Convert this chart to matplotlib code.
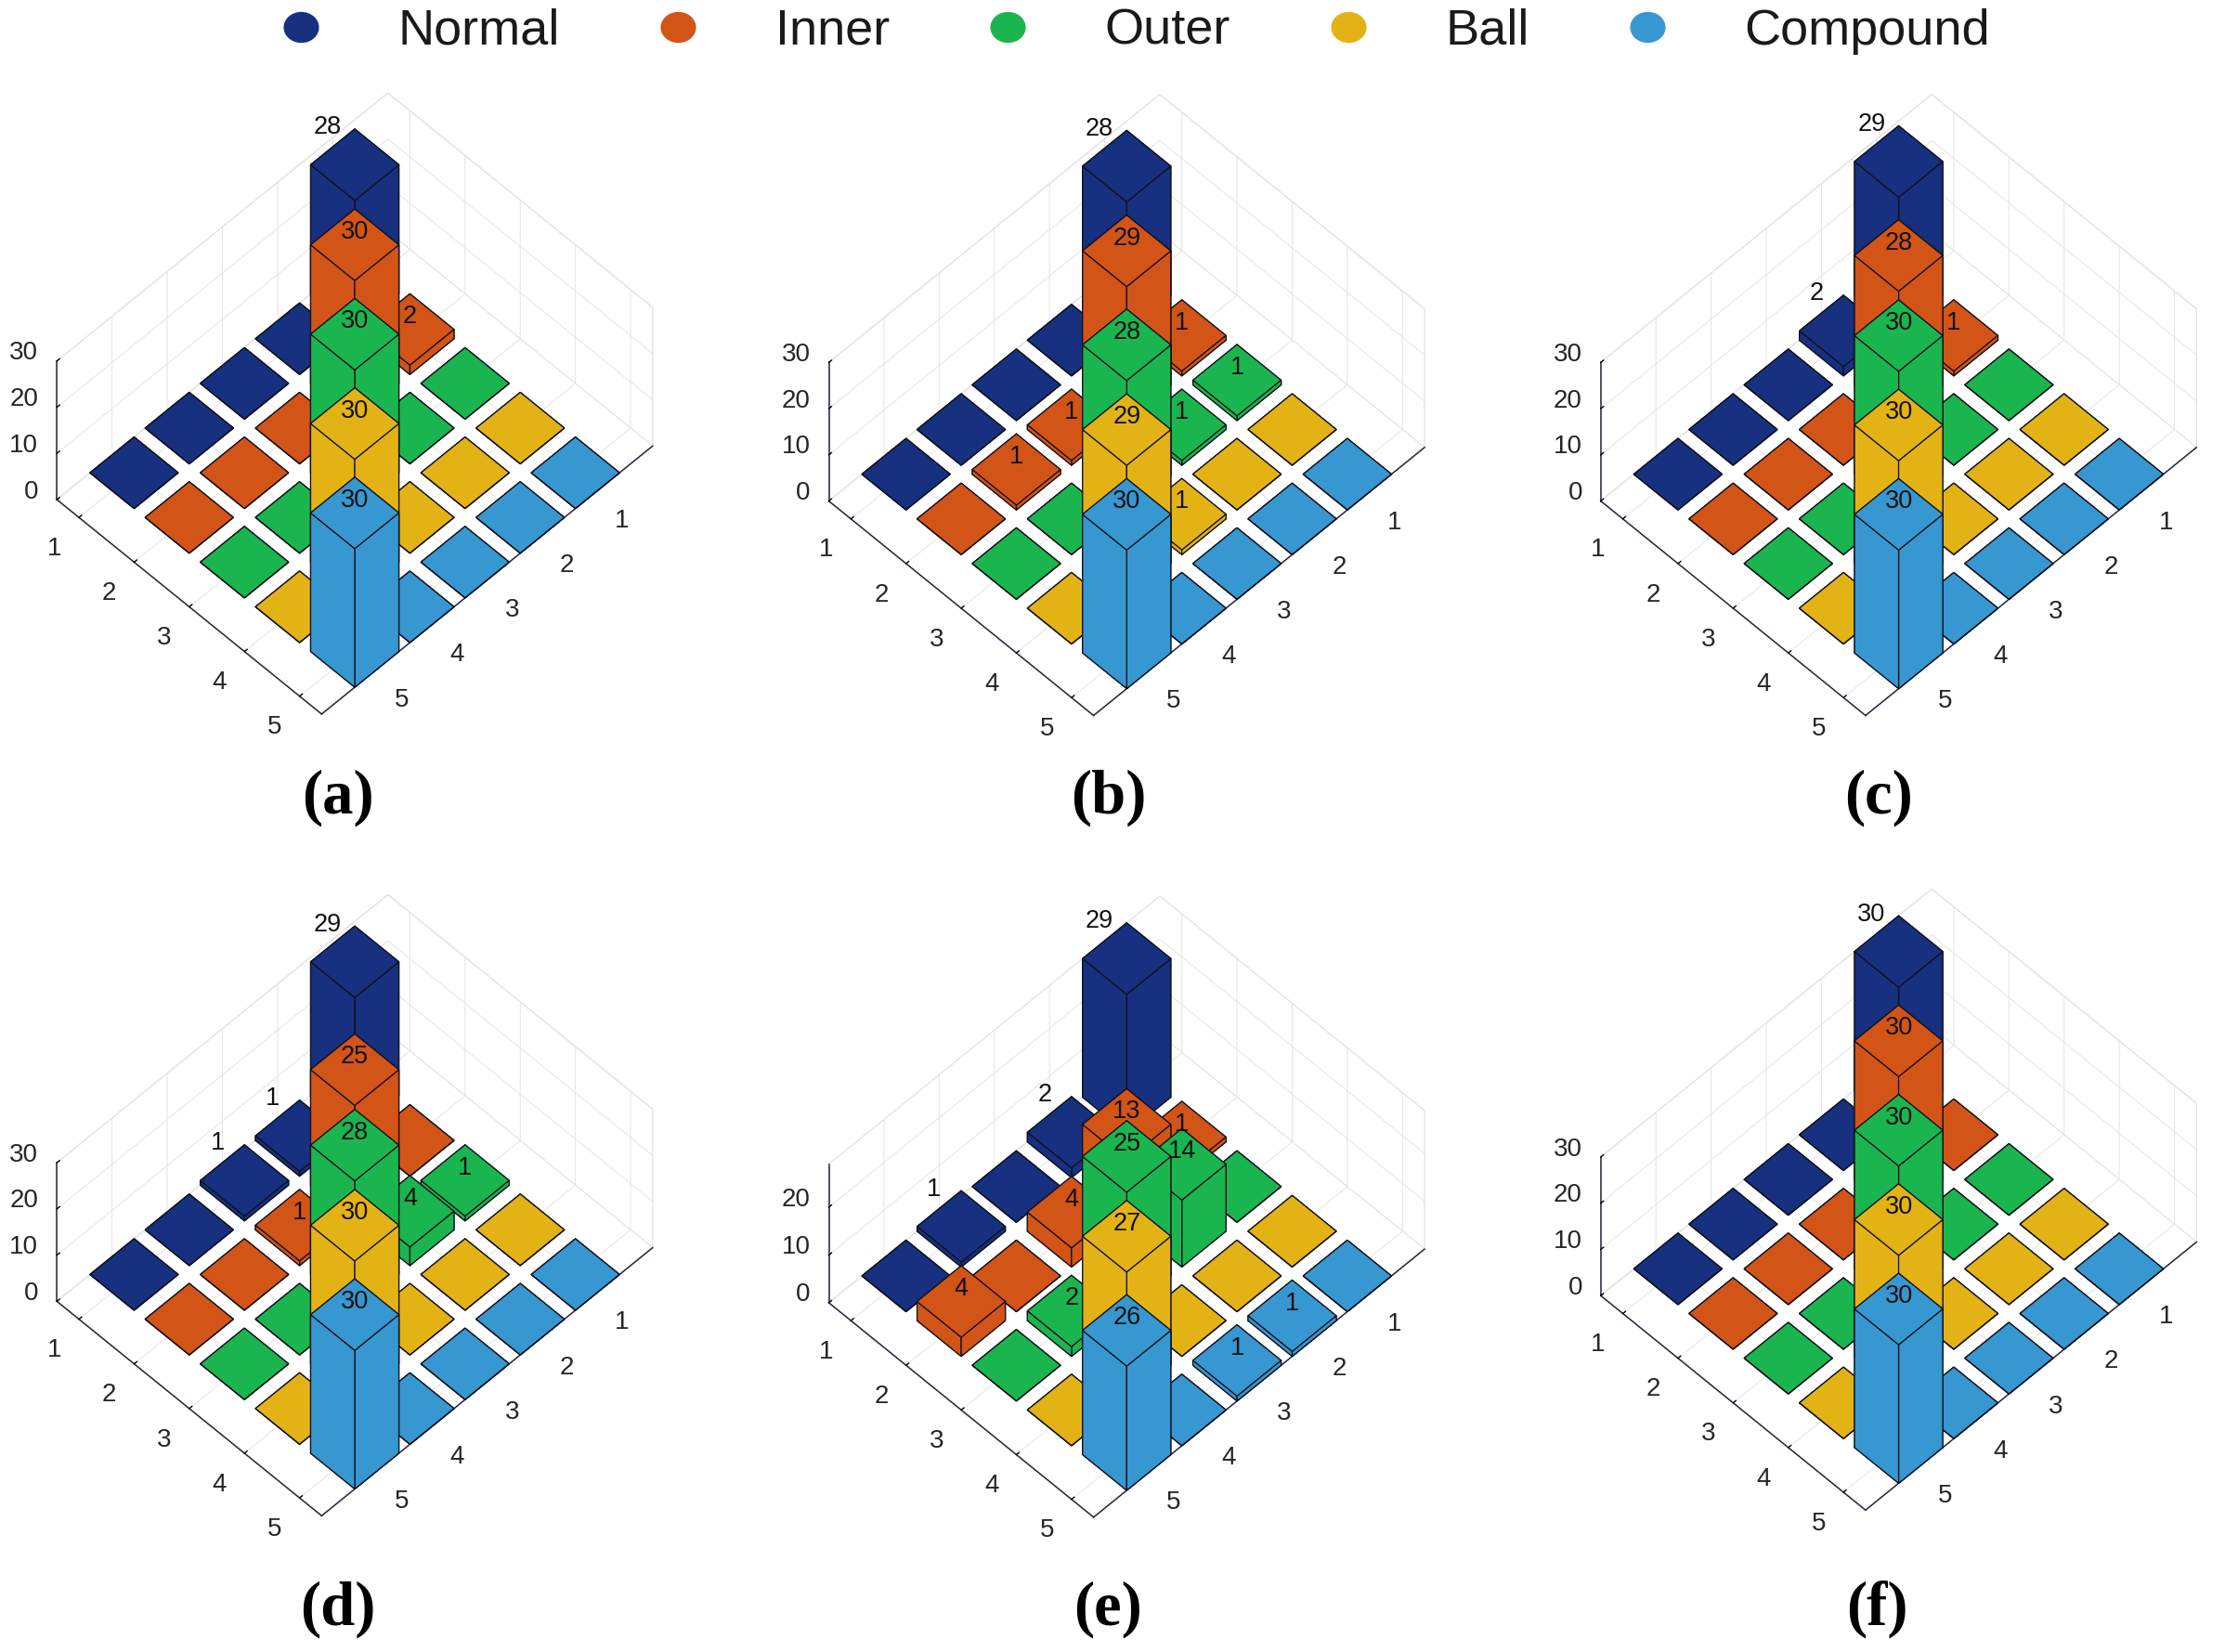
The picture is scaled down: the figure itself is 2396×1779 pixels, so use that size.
import matplotlib
matplotlib.use("Agg")
import matplotlib.pyplot as plt
from matplotlib.lines import Line2D
from matplotlib.markers import MarkerStyle
from matplotlib.transforms import Affine2D
from mpl_toolkits.mplot3d import proj3d

plt.rcParams["font.family"] = ["Liberation Sans", "DejaVu Sans"]

classes = ["Normal", "Inner", "Outer", "Ball", "Compound"]
colors = ["#17307f", "#d35417", "#1bb54f", "#e3b316", "#3797d0"]
panel_names = ["(a)", "(b)", "(c)", "(d)", "(e)", "(f)"]

# rows = class (left axis), columns = right axis
counts_a = [[28, 0, 0, 0, 0], [2, 30, 0, 0, 0], [0, 0, 30, 0, 0], [0, 0, 0, 30, 0], [0, 0, 0, 0, 30]]
counts_b = [[28, 0, 0, 0, 0], [1, 29, 1, 1, 0], [1, 1, 28, 0, 0], [0, 0, 1, 29, 0], [0, 0, 0, 0, 30]]
counts_c = [[29, 2, 0, 0, 0], [1, 28, 0, 0, 0], [0, 0, 30, 0, 0], [0, 0, 0, 30, 0], [0, 0, 0, 0, 30]]
counts_d = [[29, 1, 1, 0, 0], [0, 25, 1, 0, 0], [1, 4, 28, 0, 0], [0, 0, 0, 30, 0], [0, 0, 0, 0, 30]]
counts_e = [[29, 2, 0, 1, 0], [1, 13, 4, 0, 4], [0, 14, 25, 2, 0], [0, 0, 0, 27, 0], [0, 1, 1, 0, 26]]
counts_f = [[30, 0, 0, 0, 0], [0, 30, 0, 0, 0], [0, 0, 30, 0, 0], [0, 0, 0, 30, 0], [0, 0, 0, 0, 30]]
all_counts = [counts_a, counts_b, counts_c, counts_d, counts_e, counts_f]

ticks = [1, 2, 3, 4, 5]
z_ticks = [0, 10, 20, 30]

W, H = 2396, 1779
SCALE = 2396 / 1568  # I read positions from a 1568 wide view

# where the front bottom corner of the (5,5) bar goes, in view coordinates
anchors = [(250, 484), (794, 485), (1338, 485), (250, 1049), (794, 1050), (1338, 1045)]
label_pos = [(238, 562), (781, 562), (1324, 562), (238, 1134), (781, 1134), (1323, 1134)]

ASPECT = (6, 4.8, 3.03)
UNIT_PX = 59.4  # horizontal pixels per bar index
Y_FIX = 39  # found by comparing one render with the anchor
BOX = 760 / W
TICK_FONT = 20
TICK_COLOR = "#262626"

fig = plt.figure(figsize=(W / 100, H / 100), dpi=100, facecolor="white")


def to_px(ax, x, y, z):
    X, Y, _ = proj3d.proj_transform(x, y, z, ax.get_proj())
    return ax.transData.transform((X, Y))


def put_text(ax, x, y, z, s, **kw):
    # plain 2D text at the projected point of a 3D position
    X, Y, _ = proj3d.proj_transform(x, y, z, ax.get_proj())
    ax.text2D(X, Y, s, transform=ax.transData, va="center", **kw)


for counts, anchor, name, lab in zip(all_counts, anchors, panel_names, label_pos):
    ax = fig.add_axes([0.1, 0.1, BOX, BOX * W / H], projection="3d", computed_zorder=False)
    ax.patch.set_alpha(0)
    ax.set_proj_type("ortho")
    ax.view_init(elev=54.1, azim=45)
    top = max(max(r) for r in counts)
    ax.set_xlim(0, 6, view_margin=0)
    ax.set_ylim(0.6, 5.4, view_margin=0)
    ax.set_zlim(0, top, view_margin=0)
    ax.set_box_aspect(ASPECT)

    # size the box so one index is UNIT_PX wide, then move it onto the anchor
    p0 = to_px(ax, 1, 1, 0)
    p1 = to_px(ax, 1, 2, 0)
    ax.set_box_aspect(ASPECT, zoom=UNIT_PX / abs(p1[0] - p0[0]))
    pf = to_px(ax, 5.8, 5.8, 0)
    target = (anchor[0] * SCALE, H - anchor[1] * SCALE)
    pos = ax.get_position()
    ax.set_position([pos.x0 + (target[0] - pf[0]) / W, pos.y0 + (target[1] - pf[1] - Y_FIX) / H, pos.width, pos.height])

    for i in range(5):
        for j in range(5):
            h = counts[i][j]
            ax.bar3d(j + 1 - 0.4, i + 1 - 0.4, 0, 0.8, 0.8, h, color=colors[i], edgecolor="#10101a",
                     linewidth=0.9, shade=False, zorder=i + j)
            if h > 0:
                if i == 0:
                    put_text(ax, j + 1 - 0.17, i + 1 - 0.66, h, str(h), ha="center",
                             fontsize=19.5, color="#111111", zorder=100)
                else:
                    put_text(ax, j + 1 - 0.14, i + 1 - 0.14, h, str(h), ha="center",
                             fontsize=19.5, color="#111111", zorder=100)

    zt = [t for t in z_ticks if t <= top]
    ax.set_xticks(ticks)
    ax.set_yticks(ticks)
    ax.set_zticks(zt)
    ax.set_xticklabels([])
    ax.set_yticklabels([])
    ax.set_zticklabels([])
    # mplot3d puts tick labels on its own, the reference sets them further out
    for t in ticks:
        put_text(ax, t + 0.115, 5.965, 0, str(t), ha="center", fontsize=TICK_FONT, color=TICK_COLOR)
        put_text(ax, 6.575, t + 0.125, 0, str(t), ha="center", fontsize=TICK_FONT, color=TICK_COLOR)
    for t in zt:
        put_text(ax, 6.08, 0.345, t, str(t), ha="right", fontsize=TICK_FONT, color=TICK_COLOR)

    for axis in (ax.xaxis, ax.yaxis, ax.zaxis):
        axis.set_pane_color((1, 1, 1, 1))
        axis.pane.set_edgecolor("#e4e4e4")
        axis.line.set_color("#262640")
        axis.line.set_linewidth(1.1)
        axis._axinfo["grid"].update(color="#e4e4e4", linewidth=0.7)
        axis._axinfo["tick"].update(color="#262640", linewidth={True: 1.0, False: 0.5}, inward_factor=0)

    fig.text(lab[0] * SCALE / W, 1 - lab[1] * SCALE / H, name, family="Liberation Serif", weight="bold",
             fontsize=48, ha="center", va="center", color="black")

handles = [Line2D([], [], linestyle="none", color=c, markersize=23,
                  marker=MarkerStyle("o", transform=Affine2D().scale(1.15, 1.0))) for c in colors]
fig.legend(handles, classes, loc="center", bbox_to_anchor=(0.5093, 0.981), ncol=5, frameon=False,
           fontsize=39, handlelength=1, handletextpad=1.43, columnspacing=1.845, labelcolor="#1a1a1a")

fig.savefig("out.png", dpi=100, facecolor="white")
